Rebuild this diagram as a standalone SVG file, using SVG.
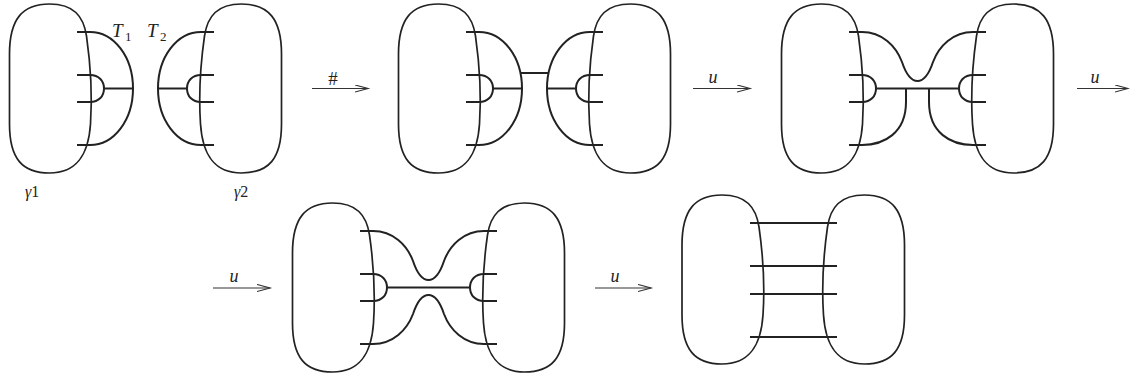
<svg xmlns="http://www.w3.org/2000/svg" xmlns:xlink="http://www.w3.org/1999/xlink" width="1130" height="377" viewBox="0 0 1130 377">
<style>
.bl{fill:none;stroke:#222;stroke-width:1.7}
.st{fill:none;stroke:#222;stroke-width:2}
.ar{fill:none;stroke:#333;stroke-width:1.2}
.tx{font-family:"Liberation Serif","Times New Roman",serif;fill:#222}
</style>
<defs>
<path id="blob" d="M 0,0 C 24,0 34,12 37,32 C 41,60 43,90 41,120 C 39,150 28,169 0,169 C -27,169 -40,155 -40,120 L -40,50 C -40,15 -27,0 0,0 Z"/>
<path id="innerD" d="M 77,75 L 90,75 C 99,75 104,81 104,88.5 C 104,96 99,102 90,102 L 77,102"/>
<path id="outerD" d="M 77,32 L 90,32 C 114,32 133,57 133,88.5 C 133,120 114,145 90,145 L 77,145"/>
<g id="halfT">
<use href="#innerD" xlink:href="#innerD"/>
<use href="#outerD" xlink:href="#outerD"/>
<line x1="104" y1="88.5" x2="133" y2="88.5"/>
</g>
<path id="topArc" d="M 77,32 L 90,32 C 110,32 124,46 130,62 C 134,74 139,81 145.5,81 C 152,81 157,74 161,62 C 167,46 181,32 201,32 L 214,32"/>
<path id="botArc" d="M 77,145 L 90,145 C 112,145 134,133 134,102 L 134,88.5"/>
<marker id="arr" markerUnits="userSpaceOnUse" markerWidth="16" markerHeight="12" refX="13" refY="4" orient="auto">
<path d="M 0,0.5 L 13,4 L 0,7.5" fill="none" stroke="#333" stroke-width="1.2"/>
</marker>
</defs>

<g id="panel1">
<g class="bl">
<use href="#blob" xlink:href="#blob" transform="translate(49.5,4)"/>
<use href="#blob" xlink:href="#blob" transform="translate(241.5,4) scale(-1,1)"/>
</g>
<g class="st">
<use href="#halfT" xlink:href="#halfT"/>
<use href="#halfT" xlink:href="#halfT" transform="translate(291,0) scale(-1,1)"/>
</g>
<text class="tx" x="112" y="37" font-size="19" font-style="italic">T</text>
<text class="tx" x="125" y="41" font-size="13">1</text>
<text class="tx" x="147" y="37" font-size="19" font-style="italic">T</text>
<text class="tx" x="160" y="41" font-size="13">2</text>
<text class="tx" x="25" y="197" font-size="16"><tspan font-style="italic">γ</tspan>1</text>
<text class="tx" x="234" y="197" font-size="16"><tspan font-style="italic">γ</tspan>2</text>
</g>

<g id="panel2" transform="translate(389,0)">
<g class="bl">
<use href="#blob" xlink:href="#blob" transform="translate(49.5,4)"/>
<use href="#blob" xlink:href="#blob" transform="translate(241.5,4) scale(-1,1)"/>
</g>
<g class="st">
<use href="#halfT" xlink:href="#halfT"/>
<use href="#halfT" xlink:href="#halfT" transform="translate(291,0) scale(-1,1)"/>
<line x1="131.5" y1="73" x2="159.5" y2="73"/>
</g>
</g>

<g id="panel3" transform="translate(772,0)">
<g class="bl">
<use href="#blob" xlink:href="#blob" transform="translate(49.5,4)"/>
<use href="#blob" xlink:href="#blob" transform="translate(241.5,4) scale(-1,1)"/>
</g>
<g class="st">
<use href="#innerD" xlink:href="#innerD"/>
<use href="#innerD" xlink:href="#innerD" transform="translate(291,0) scale(-1,1)"/>
<use href="#topArc" xlink:href="#topArc"/>
<use href="#botArc" xlink:href="#botArc"/>
<use href="#botArc" xlink:href="#botArc" transform="translate(291,0) scale(-1,1)"/>
<line x1="104" y1="88.5" x2="187" y2="88.5"/>
</g>
</g>

<g id="panel4" transform="translate(283,199)">
<g class="bl">
<use href="#blob" xlink:href="#blob" transform="translate(49.5,4)"/>
<use href="#blob" xlink:href="#blob" transform="translate(241.5,4) scale(-1,1)"/>
</g>
<g class="st">
<use href="#innerD" xlink:href="#innerD"/>
<use href="#innerD" xlink:href="#innerD" transform="translate(291,0) scale(-1,1)"/>
<use href="#topArc" xlink:href="#topArc"/>
<use href="#topArc" xlink:href="#topArc" transform="translate(0,177) scale(1,-1)"/>
<line x1="104" y1="88.5" x2="187" y2="88.5"/>
</g>
</g>

<g id="panel5">
<g class="bl">
<use href="#blob" xlink:href="#blob" transform="translate(722,195)"/>
<use href="#blob" xlink:href="#blob" transform="translate(864.5,195) scale(-1,1)"/>
</g>
<g class="st">
<line x1="750" y1="223" x2="837" y2="223"/>
<line x1="750" y1="266" x2="837" y2="266"/>
<line x1="750" y1="294" x2="837" y2="294"/>
<line x1="750" y1="337" x2="837" y2="337"/>
</g>
</g>

<g id="connectors">
<g class="ar" marker-end="url(#arr)">
<line x1="312" y1="88.5" x2="368" y2="88.5"/>
<line x1="693" y1="88.5" x2="750" y2="88.5"/>
<line x1="1077" y1="88.5" x2="1128" y2="88.5"/>
<line x1="213" y1="288" x2="270" y2="288"/>
<line x1="595" y1="288" x2="651" y2="288"/>
</g>
<text class="tx" x="333" y="85" font-size="19" text-anchor="middle">#</text>
<text class="tx" x="713" y="83" font-size="18" font-style="italic" text-anchor="middle">u</text>
<text class="tx" x="1095" y="83" font-size="18" font-style="italic" text-anchor="middle">u</text>
<text class="tx" x="234" y="282" font-size="18" font-style="italic" text-anchor="middle">u</text>
<text class="tx" x="615" y="282" font-size="18" font-style="italic" text-anchor="middle">u</text>
</g>
</svg>
